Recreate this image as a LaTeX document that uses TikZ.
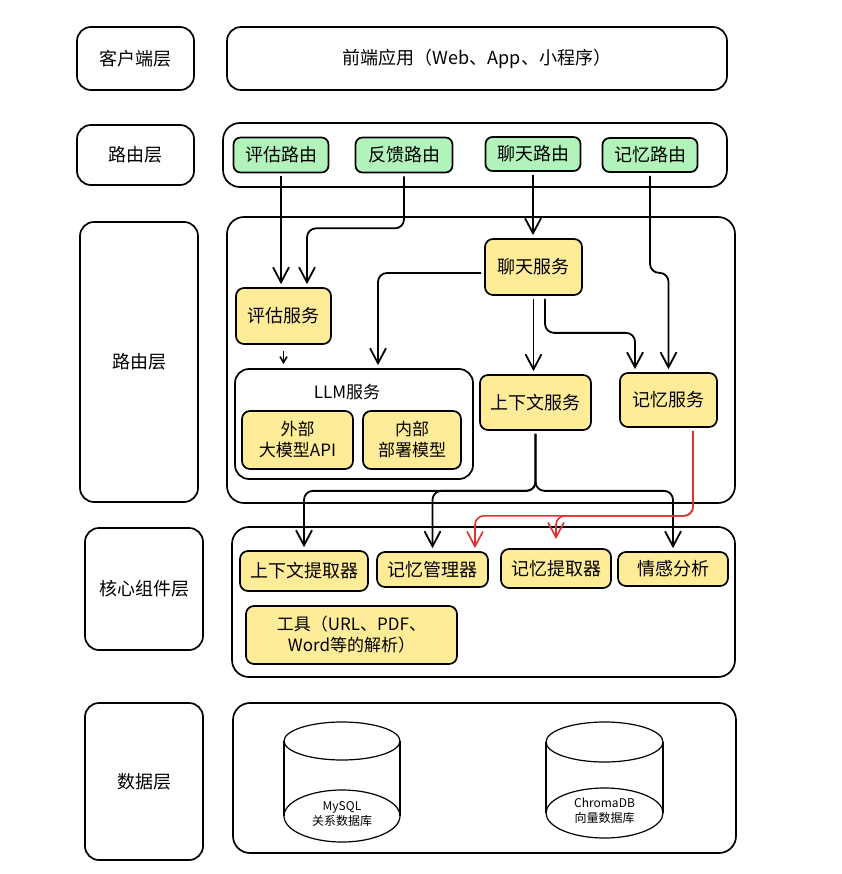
\documentclass[tikz,border=0pt]{standalone}
\usepackage{fontspec}
\setmainfont{Noto Sans CJK SC}
\usepackage{tikz, xcolor}
\usetikzlibrary{shapes,arrows,arrows.meta}
\definecolor{routegreen}{HTML}{B2F2BB}
\definecolor{srvyellow}{HTML}{FFEC99}
\definecolor{linkred}{HTML}{E03131}

\begin{document}
\begin{tikzpicture}[x=1pt, y=-1pt]
\tikzstyle{layer}=[rectangle, rounded corners=14pt, draw=black, line width=1.7pt, inner sep=2pt, font=\fontsize{18}{22}\selectfont]
\tikzstyle{frame}=[rectangle, rounded corners=17pt, draw=black, line width=1.7pt, inner sep=0pt]
\tikzstyle{vertexg}=[rectangle, rounded corners=7pt, draw=black, fill=routegreen, line width=1.7pt, inner sep=1pt, font=\fontsize{18}{22}\selectfont]
\tikzstyle{vertexy}=[rectangle, rounded corners=8pt, draw=black, fill=srvyellow, line width=1.7pt, inner sep=1pt, align=center, font=\fontsize{18}{22}\selectfont]
\tikzstyle{drawstyle}=[line width=1.8pt, rounded corners=9pt, -{Straight Barb[length=15pt,width=16pt]}, shorten >=3pt, shorten <=3pt]
\tikzstyle{redstyle}=[drawstyle, draw=linkred, line width=1.6pt]

\useasboundingbox (0,0) rectangle (841,874);

% layer names
\node[layer, minimum width=117pt, minimum height=63pt] (Lay0) at (135.5,58.5) {客户端层};
\node[layer, minimum width=117pt, minimum height=60pt] (Lay1) at (135.5,155) {路由层};
\node[layer, minimum width=118pt, minimum height=280pt] (Lay2) at (139,362) {路由层};
\node[layer, minimum width=118pt, minimum height=122pt] (Lay3) at (144,589) {核心组件层};
\node[layer, minimum width=118pt, minimum height=157pt] (Lay4) at (144,781.5) {数据层};

% containers
\node[layer, minimum width=500pt, minimum height=63pt] (Front) at (477,58.5) {前端应用（Web、App、小程序）};
\node[frame, minimum width=504pt, minimum height=64pt] (RouteBox) at (475,155) {};
\node[frame, minimum width=508pt, minimum height=286pt] (SrvBox) at (481,360) {};
\node[frame, minimum width=503pt, minimum height=150pt] (CoreBox) at (483.5,602) {};
\node[frame, minimum width=503pt, minimum height=150pt] (DataBox) at (484.5,778) {};

% routes
\node[vertexg, minimum width=95pt, minimum height=35pt] (Route0) at (281,155) {评估路由};
\node[vertexg, minimum width=97pt, minimum height=35pt] (Route1) at (404,155) {反馈路由};
\node[vertexg, minimum width=95pt, minimum height=34pt] (Route2) at (533,154) {聊天路由};
\node[vertexg, minimum width=95pt, minimum height=34pt] (Route3) at (650,155) {记忆路由};

% services
\node[vertexy, minimum width=97pt, minimum height=56pt] (ChatSrv) at (533.5,267) {聊天服务};
\node[vertexy, minimum width=95pt, minimum height=56pt] (EvalSrv) at (283.5,316) {评估服务};
\node[frame, rounded corners=14pt, minimum width=238pt, minimum height=110pt] (LLM) at (354,424) {};
\node[font=\fontsize{17}{20}\selectfont] (LLMname) at (347,392) {LLM服务};
\node[vertexy, minimum width=111pt, minimum height=58pt, font=\fontsize{17}{21}\selectfont] (ExtApi) at (297.5,440) {外部\\大模型API};
\node[vertexy, minimum width=98pt, minimum height=58pt, font=\fontsize{17}{21}\selectfont] (IntMod) at (412,440) {内部\\部署模型};
\node[vertexy, minimum width=111pt, minimum height=55pt] (CtxSrv) at (535.5,402.5) {上下文服务};
\node[vertexy, minimum width=97pt, minimum height=54pt] (MemSrv) at (668.5,400) {记忆服务};

% core components
\node[vertexy, minimum width=128pt, minimum height=40pt] (CtxExt) at (304,571) {上下文提取器};
\node[vertexy, minimum width=111pt, minimum height=35pt] (MemMgr) at (432.5,569.5) {记忆管理器};
\node[vertexy, minimum width=110pt, minimum height=39pt] (MemExt) at (556,568.5) {记忆提取器};
\node[vertexy, minimum width=110pt, minimum height=34pt] (Emo) at (673,569) {情感分析};
\node[vertexy, minimum width=211pt, minimum height=58pt, font=\fontsize{17}{21}\selectfont] (Tools) at (351.5,635) {工具（URL、PDF、\\Word等的解析）};

% databases
\draw[line width=1.2pt] (342,741) ellipse (58 and 19);
\draw[line width=1.2pt] (284,741) -- (284,816) (400,741) -- (400,816);
\draw[line width=1.2pt] (342,816) ellipse (58 and 26);
\node[align=center, font=\fontsize{12}{15}\selectfont] (MySQL) at (342,814) {MySQL\\关系数据库};
\draw[line width=1.2pt] (604.5,742) ellipse (58.5 and 20);
\draw[line width=1.2pt] (546,742) -- (546,813) (663,742) -- (663,813);
\draw[line width=1.2pt] (604.5,813) ellipse (58.5 and 25);
\node[align=center, font=\fontsize{12}{15}\selectfont] (Chroma) at (604.5,811) {ChromaDB\\向量数据库};

% connectors
\draw[drawstyle] (Route0.south) -- (Route0.south |- EvalSrv.north);
\draw[drawstyle] (Route1.south) -- ++(0,55) -| ([xshift=23.5pt]EvalSrv.north);
\draw[drawstyle] (Route2.south) -- (Route2.south |- ChatSrv.north);
\draw[drawstyle] (Route3.south) -- ++(0,100) -| (MemSrv.north);
\draw[drawstyle] ([yshift=-6pt]ChatSrv.west) -| ([xshift=24pt]LLM.north);
\draw[drawstyle] (ChatSrv.south) -- (ChatSrv.south |- CtxSrv.north);
\draw[drawstyle] ([xshift=11.5pt]ChatSrv.south) -- ++(0,37) -| ([xshift=-33.5pt]MemSrv.north);
\draw[line width=1.6pt, -{Straight Barb[length=6pt,width=7pt]}, shorten <=6pt, shorten >=4pt] (EvalSrv.south) -- (EvalSrv.south |- LLM.north);
\draw[drawstyle] (CtxSrv.south) -- ++(0,60) -| (CtxExt.north);
\draw[drawstyle] (CtxSrv.south) -- ++(0,60) -| (MemMgr.north);
\draw[drawstyle] (CtxSrv.south) -- ++(0,60) -| (Emo.north);
\draw[redstyle] ([xshift=24.5pt]MemSrv.south) -- ++(0,88) -| ([xshift=42.5pt]MemMgr.north);
\draw[redstyle, shorten >=9pt] ([xshift=24.5pt]MemSrv.south) -- ++(0,88) -| (MemExt.north);
\end{tikzpicture}
\end{document}
